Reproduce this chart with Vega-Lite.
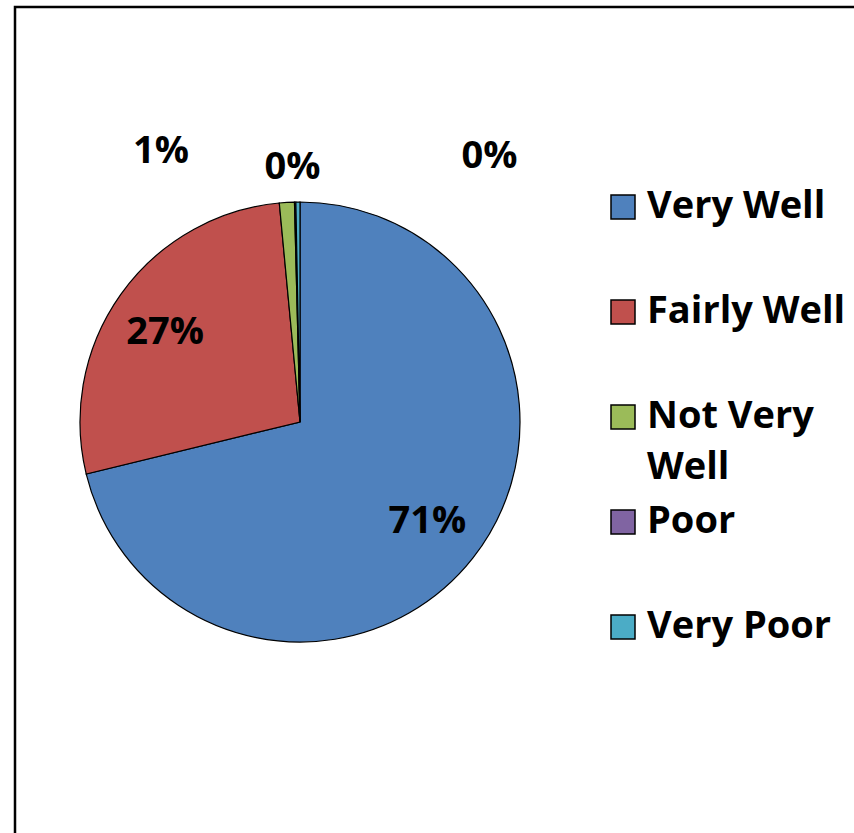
{
  "$schema": "https://vega.github.io/schema/vega-lite/v6.json",
  "width": 846,
  "height": 835,
  "autosize": {"type": "none"},
  "padding": {"left": 15, "top": 7, "right": 0, "bottom": 0},
  "background": "white",
  "view": {"stroke": "black", "strokeWidth": 2.5},
  "config": {
    "font": "Open Sans",
    "style": {"guide-label": {"lineHeight": 51}}
  },
  "data": {
    "values": [
      {"category": "Very Well", "value": 71.2, "label": "71%", "order": 1},
      {"category": "Fairly Well", "value": 27.3, "label": "27%", "order": 2},
      {"category": "Not Very Well", "value": 1.1, "label": "1%", "order": 3},
      {"category": "Poor", "value": 0.1, "label": "0%", "order": 4},
      {"category": "Very Poor", "value": 0.3, "label": "0%", "order": 5}
    ]
  },
  "encoding": {
    "theta": {"field": "value", "type": "quantitative", "stack": true},
    "order": {"field": "order", "type": "quantitative"}
  },
  "layer": [
    {
      "mark": {"type": "arc", "outerRadius": 220, "x": 285, "y": 415, "stroke": "black", "strokeWidth": 1.2},
      "encoding": {
        "color": {
          "field": "category",
          "type": "nominal",
          "scale": {
            "domain": ["Very Well", "Fairly Well", "Not Very Well", "Poor", "Very Poor"],
            "range": ["#4F81BD", "#C0504D", "#9BBB59", "#8064A2", "#4BACC6"]
          },
          "legend": {
            "orient": "none",
            "legendX": 589,
            "legendY": 181,
            "title": null,
            "padding": 0,
            "symbolType": "square",
            "symbolSize": 576,
            "symbolStrokeColor": "black",
            "symbolStrokeWidth": 1.5,
            "symbolOpacity": 1,
            "labelFont": "Open Sans",
            "labelFontSize": 38,
            "labelFontWeight": "bold",
            "labelColor": "black",
            "labelOffset": 5,
            "labelLimit": 400,
            "gridAlign": "all",
            "rowPadding": 16,
            "labelExpr": "datum.label == 'Not Very Well' ? ['Not Very', 'Well'] : datum.label"
          }
        }
      }
    },
    {
      "mark": {"type": "text", "radius": 162, "x": 285, "y": 415, "fontSize": 38, "fontWeight": "bold", "font": "Open Sans", "color": "black"},
      "encoding": {
        "text": {"condition": {"test": "datum.category == 'Very Well'", "field": "label"}, "value": ""}
      }
    },
    {
      "mark": {"type": "text", "radius": 162, "x": 285, "y": 415, "dx": -3, "dy": 5, "fontSize": 38, "fontWeight": "bold", "font": "Open Sans", "color": "black"},
      "encoding": {
        "text": {"condition": {"test": "datum.category == 'Fairly Well'", "field": "label"}, "value": ""}
      }
    },
    {
      "mark": {"type": "text", "radius": 250, "x": 285, "y": 415, "dx": -124, "dy": -20, "fontSize": 38, "fontWeight": "bold", "font": "Open Sans", "color": "black"},
      "encoding": {
        "text": {"condition": {"test": "datum.category == 'Not Very Well'", "field": "label"}, "value": ""}
      }
    },
    {
      "mark": {"type": "text", "radius": 254, "x": 285, "y": 415, "dx": -2, "dy": 0, "fontSize": 38, "fontWeight": "bold", "font": "Open Sans", "color": "black"},
      "encoding": {
        "text": {"condition": {"test": "datum.category == 'Poor'", "field": "label"}, "value": ""}
      }
    },
    {
      "mark": {"type": "text", "radius": 255, "x": 285, "y": 415, "dx": 192, "dy": -10, "fontSize": 38, "fontWeight": "bold", "font": "Open Sans", "color": "black"},
      "encoding": {
        "text": {"condition": {"test": "datum.category == 'Very Poor'", "field": "label"}, "value": ""}
      }
    }
  ]
}
